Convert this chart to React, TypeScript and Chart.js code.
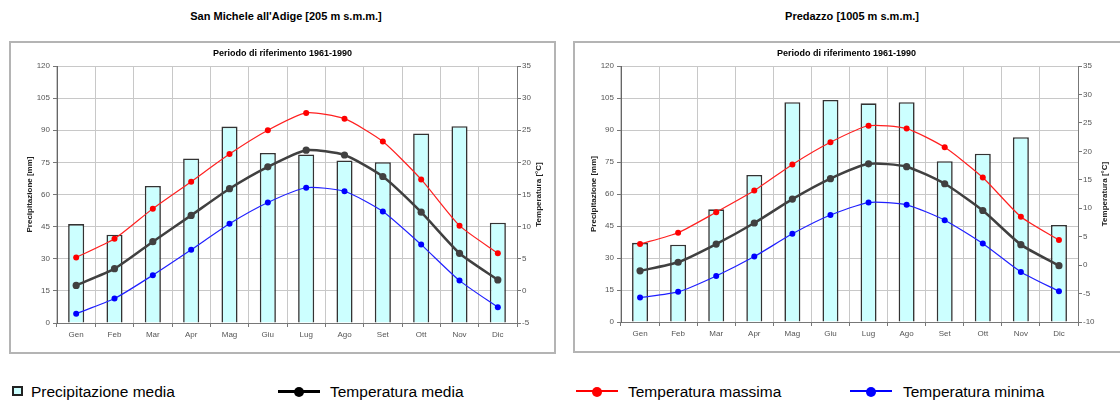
import React, { useEffect, useRef } from "react";
import { Chart, registerables } from "chart.js";

Chart.register(...registerables);

const MONTHS = ["Gen", "Feb", "Mar", "Apr", "Mag", "Giu", "Lug", "Ago", "Set", "Ott", "Nov", "Dic"];

const SM_PRECIP = [46.2, 41.2, 64.0, 76.8, 91.7, 79.4, 78.7, 75.9, 75.1, 88.5, 91.9, 46.8];
const SM_TMEAN = [0.85, 3.45, 7.65, 11.75, 15.9, 19.3, 21.9, 21.15, 17.8, 12.25, 5.85, 1.7];
const SM_TMAX = [5.2, 8.1, 12.8, 17.0, 21.3, 25.0, 27.7, 26.8, 23.25, 17.35, 10.15, 5.85];
const SM_TMIN = [-3.55, -1.2, 2.45, 6.4, 10.45, 13.75, 16.05, 15.5, 12.35, 7.2, 1.6, -2.55];

const PR_PRECIP = [37.1, 36.2, 52.8, 68.9, 103.0, 104.1, 102.5, 103.0, 75.4, 78.9, 86.6, 45.5];
const PR_TMEAN = [-1.0, 0.5, 3.7, 7.4, 11.6, 15.2, 17.8, 17.3, 14.3, 9.6, 3.6, -0.1];
const PR_TMAX = [3.7, 5.7, 9.3, 13.1, 17.7, 21.6, 24.5, 24.0, 20.7, 15.4, 8.5, 4.4];
const PR_TMIN = [-5.7, -4.7, -1.9, 1.5, 5.5, 8.8, 11.0, 10.6, 7.9, 3.8, -1.2, -4.6];

const SUBTITLE = "Periodo di riferimento 1961-1990";
const RIGHT_TITLE = "Temperatura [°C]";
const FONT = "'Liberation Sans', Arial, sans-serif";

Chart.defaults.font.family = FONT;

type PanelProps = {
  precip: number[];
  tmean: number[];
  tmax: number[];
  tmin: number[];
  tAxisMin: number;
  rightWidth: number;
  rightTitleX: number;
  width: number;
  height: number;
};

function Panel(p: PanelProps) {
  const ref = useRef<HTMLCanvasElement | null>(null);
  useEffect(() => {
    if (!ref.current) return;
    const tickFont = { family: FONT, size: 8 };
    const rightTitlePlugin = {
      id: "rightTitle",
      afterDraw(chart: any) {
        const ctx = chart.ctx;
        const a = chart.chartArea;
        ctx.save();
        ctx.translate(p.rightTitleX, (a.top + a.bottom) / 2);
        ctx.rotate(-Math.PI / 2);
        ctx.font = `bold 8px ${FONT}`;
        ctx.fillStyle = "#222";
        ctx.textAlign = "center";
        ctx.textBaseline = "middle";
        ctx.fillText(RIGHT_TITLE, 0, 0);
        ctx.restore();
      },
    };
    const chart = new Chart(ref.current, {
      type: "bar",
      data: {
        labels: MONTHS,
        datasets: [
          {
            type: "line",
            label: "Temperatura media",
            data: p.tmean,
            yAxisID: "y1",
            borderColor: "#404040",
            backgroundColor: "#404040",
            borderWidth: 2.5,
            pointRadius: 3.6,
            pointBackgroundColor: "#404040",
            pointBorderWidth: 0,
            tension: 0.2,
            order: 1,
          } as any,
          {
            type: "line",
            label: "Temperatura massima",
            data: p.tmax,
            yAxisID: "y1",
            borderColor: "#ff2020",
            backgroundColor: "#ff0000",
            borderWidth: 1.2,
            pointRadius: 3,
            pointBackgroundColor: "#ff0000",
            pointBorderWidth: 0,
            tension: 0.2,
            order: 2,
          },
          {
            type: "line",
            label: "Temperatura minima",
            data: p.tmin,
            yAxisID: "y1",
            borderColor: "#2020ff",
            backgroundColor: "#0000ff",
            borderWidth: 1.2,
            pointRadius: 3,
            pointBackgroundColor: "#0000ff",
            pointBorderWidth: 0,
            tension: 0.2,
            order: 3,
          },
          {
            type: "bar",
            label: "Precipitazione media",
            data: p.precip,
            yAxisID: "y",
            backgroundColor: "#ccffff",
            borderColor: "#333333",
            borderWidth: 1.6,
            barPercentage: 0.42,
            categoryPercentage: 1,
            order: 10,
          },
        ],
      },
      options: {
        animation: false,
        responsive: false,
        maintainAspectRatio: false,
        layout: { padding: 0 },
        plugins: {
          legend: { display: false },
          tooltip: { enabled: false },
          title: {
            display: true,
            text: SUBTITLE,
            color: "#000",
            font: { family: FONT, size: 9, weight: "bold" },
            padding: { top: 7, bottom: 7.2 },
          },
        },
        scales: {
          x: {
            offset: true,
            afterFit: (s: any) => {
              s.height = 31;
            },
            grid: { color: "#c8c8c8", tickColor: "#777", tickLength: 4, offset: true },
            border: { color: "#777" },
            ticks: { color: "#555", font: tickFont, padding: 3, maxRotation: 0 },
          },
          y: {
            position: "left",
            min: 0,
            max: 120,
            afterFit: (s: any) => {
              s.width = 48;
            },
            grid: { color: "#c8c8c8", tickColor: "#777", tickLength: 4 },
            border: { color: "#666" },
            ticks: { stepSize: 15, color: "#555", font: tickFont, padding: 3 },
            title: {
              display: true,
              text: "Precipitazione [mm]",
              color: "#222",
              font: { family: FONT, size: 8, weight: "bold" },
              padding: { top: 15.5, bottom: 0 },
            },
          },
          y1: {
            position: "right",
            min: p.tAxisMin,
            max: 35,
            afterFit: (s: any) => {
              s.width = p.rightWidth;
            },
            grid: { drawOnChartArea: false, tickColor: "#777", tickLength: 4 },
            border: { color: "#777" },
            ticks: { stepSize: 5, color: "#555", font: tickFont, padding: 1 },
          },
        },
      } as any,
      plugins: [rightTitlePlugin],
    });
    return () => chart.destroy();
  }, []);
  return <canvas ref={ref} width={p.width} height={p.height} style={{ width: p.width, height: p.height, display: "block" }} />;
}

function LineIcon({ color, x, thick }: { color: string; x: number; thick: number }) {
  return (
    <div style={{ position: "absolute", left: x, top: 385, width: 42, height: 12 }}>
      <div style={{ position: "absolute", left: 0, top: 6 - thick / 2, width: 42, height: thick, background: color }} />
      <div style={{ position: "absolute", left: 16, top: 1.5, width: 10, height: 10, borderRadius: 5, background: color }} />
    </div>
  );
}

export default function App() {
  const titleStyle: React.CSSProperties = {
    position: "absolute",
    top: 9,
    height: 14,
    lineHeight: "14px",
    fontFamily: FONT,
    fontWeight: "bold",
    fontSize: 11,
    textAlign: "center",
    color: "#000",
  };
  const legendText: React.CSSProperties = {
    position: "absolute",
    top: 382,
    height: 20,
    lineHeight: "20px",
    fontFamily: FONT,
    fontSize: 15.5,
    color: "#000",
    whiteSpace: "nowrap",
  };
  return (
    <div style={{ position: "absolute", left: 0, top: 0, width: 1120, height: 403, overflow: "hidden", background: "#fff" }}>
      <div style={{ ...titleStyle, left: 86, width: 400 }}>San Michele all'Adige [205 m s.m.m.]</div>
      <div style={{ ...titleStyle, left: 652, width: 400 }}>Predazzo [1005 m s.m.m.]</div>

      <div style={{ position: "absolute", left: 9, top: 41 }}>
        <Panel precip={SM_PRECIP} tmean={SM_TMEAN} tmax={SM_TMAX} tmin={SM_TMIN} tAxisMin={-5} rightWidth={39} rightTitleX={530} width={547} height={313} />
      </div>
      <div style={{ position: "absolute", left: 9, top: 41, width: 547, height: 313, boxSizing: "border-box", border: "2px solid #b4b4b4", pointerEvents: "none" }} />

      <div style={{ position: "absolute", left: 573, top: 41 }}>
        <Panel precip={PR_PRECIP} tmean={PR_TMEAN} tmax={PR_TMAX} tmin={PR_TMIN} tAxisMin={-10} rightWidth={42} rightTitleX={532} width={547} height={312} />
      </div>
      <div style={{ position: "absolute", left: 573, top: 41, width: 560, height: 312, boxSizing: "border-box", border: "2px solid #b4b4b4", pointerEvents: "none" }} />

      <div style={{ position: "absolute", left: 12, top: 386, width: 11, height: 10, boxSizing: "border-box", border: "2px solid #222", background: "#ccffff" }} />
      <div style={{ ...legendText, left: 31 }}>Precipitazione media</div>
      <LineIcon color="#000" x={278} thick={3} />
      <div style={{ ...legendText, left: 330 }}>Temperatura media</div>
      <LineIcon color="#ff0000" x={576} thick={2} />
      <div style={{ ...legendText, left: 628 }}>Temperatura massima</div>
      <LineIcon color="#0000ff" x={850} thick={2} />
      <div style={{ ...legendText, left: 903 }}>Temperatura minima</div>
    </div>
  );
}
